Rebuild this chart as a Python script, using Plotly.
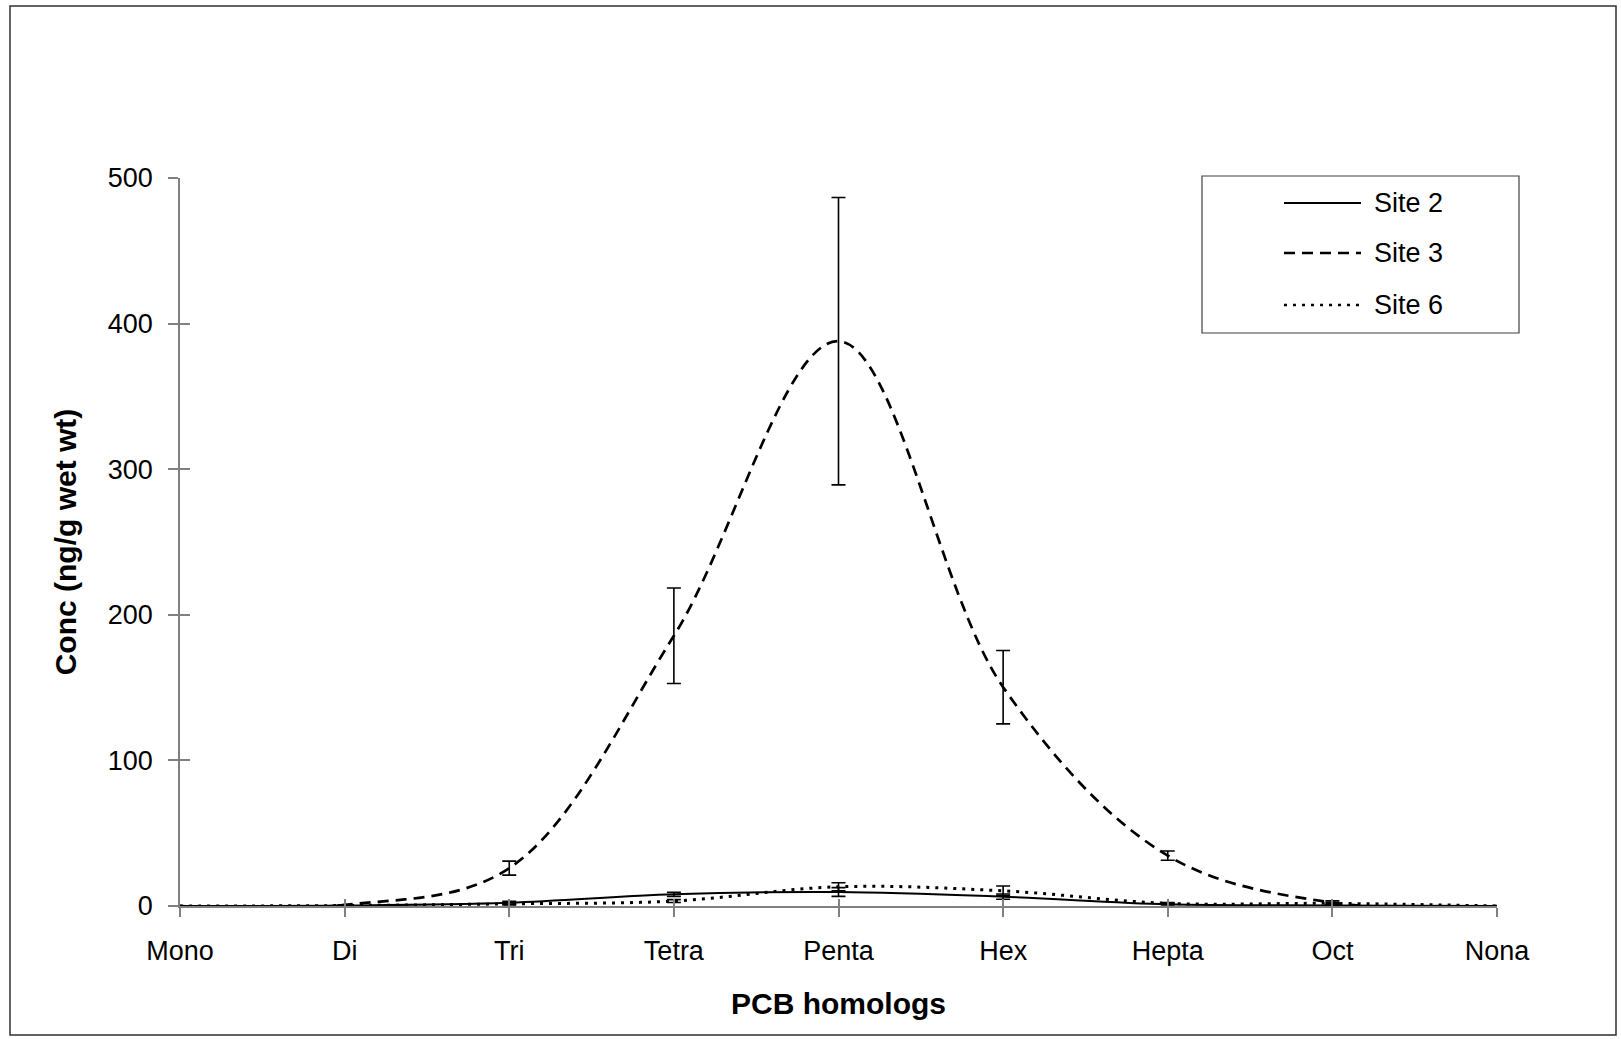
import plotly.graph_objects as go

categories = ["Mono", "Di", "Tri", "Tetra", "Penta", "Hex", "Hepta", "Oct", "Nona"]
site2 = [0, 0.3, 2.2, 8.0, 9.6, 6.4, 1.2, 0.4, 0]
site2_err = [0, 0.2, 1.0, 1.4, 3.0, 1.8, 0.5, 0.3, 0]
site3 = [0, 0.8, 26.0, 185.6, 387.9, 150.3, 34.6, 2.3, 0]
site3_err = [0, 0, 4.8, 32.8, 98.7, 25.2, 3.2, 1.2, 0]
site6 = [0, 0.3, 1.5, 3.4, 13.2, 10.4, 1.8, 1.8, 0]
site6_err = [0, 0.2, 0.8, 1.0, 2.8, 3.3, 0.5, 0.5, 0]
names = ["Site 2", "Site 3", "Site 6"]
y_ticks = [0, 100, 200, 300, 400, 500]

FONT = "Liberation Sans, Arial, sans-serif"

W, H = 1621, 1039
L, R, T, B = 180, 124, 178, 133
PW, PH = W - L - R, H - T - B


def px(x):
    return (x - L) / PW


def py(y):
    return (H - B - y) / PH


styles = [
    dict(color="black", width=2, dash="solid"),
    dict(color="black", width=2.7, dash="11px,7px"),
    dict(color="black", width=3, dash="3px,6px"),
]
series = [(site2, site2_err), (site3, site3_err), (site6, site6_err)]

fig = go.Figure()
for (vals, errs), name, st in zip(series, names, styles):
    fig.add_trace(go.Scatter(
        x=categories, y=vals, name=name, mode="lines",
        line=dict(color=st["color"], width=st["width"], dash=st["dash"],
                  shape="spline", smoothing=1.0),
        error_y=dict(type="data", array=errs, visible=True, color="black",
                     thickness=1.6, width=7),
        showlegend=False,
    ))

# empty helper trace so the overlay axes (inner half of crossing ticks) are drawn
fig.add_trace(go.Scatter(x=[], y=[], xaxis="x2", yaxis="y2", showlegend=False,
                         hoverinfo="skip"))

# custom legend box + outer chart border
shapes = [
    dict(type="rect", xref="paper", yref="paper",
         x0=px(1202), x1=px(1519), y0=py(333), y1=py(176),
         line=dict(color="#404040", width=1.2), fillcolor="rgba(0,0,0,0)"),
    dict(type="rect", xref="paper", yref="paper",
         x0=px(10), x1=px(1616), y0=py(1035), y1=py(6),
         line=dict(color="#303030", width=1.5), fillcolor="rgba(0,0,0,0)", layer="below"),
]
annotations = []
rows_y = [203, 253, 305]
for name, st, ry in zip(names, styles, rows_y):
    shapes.append(dict(type="line", xref="paper", yref="paper",
                       x0=px(1284), x1=px(1361), y0=py(ry), y1=py(ry),
                       line=dict(color=st["color"], width=st["width"] * 0.9, dash=st["dash"])))
    annotations.append(dict(xref="paper", yref="paper", x=px(1372), y=py(ry),
                            text=name, showarrow=False, xanchor="left", yanchor="middle",
                            font=dict(family=FONT, size=27, color="black")))

fig.update_layout(
    width=W, height=H,
    margin=dict(l=L, r=R, t=T, b=B, pad=0),
    paper_bgcolor="white", plot_bgcolor="white",
    font=dict(family=FONT, size=27, color="black"),
    showlegend=False,
    shapes=shapes, annotations=annotations,
    xaxis=dict(
        type="category", categoryorder="array", categoryarray=categories,
        range=[0, len(categories) - 1],
        showline=True, linecolor="#808080", linewidth=1.5,
        ticks="outside", ticklen=9, tickcolor="#808080", tickwidth=1.5,
        tickson="labels", showgrid=False, zeroline=False,
        tickfont=dict(family=FONT, size=27, color="black"),
        ticklabelstandoff=11,
        title=dict(text="<b>PCB homologs</b>", font=dict(family=FONT, size=30, color="black"),
                   standoff=28),
    ),
    xaxis2=dict(
        overlaying="x", anchor="y", side="bottom", range=[0, len(categories) - 1],
        tickvals=list(range(len(categories))), ticks="inside", ticklen=7,
        tickcolor="#808080", tickwidth=1.5, showticklabels=False,
        showgrid=False, zeroline=False, showline=False,
    ),
    yaxis=dict(
        range=[0, 500], tickvals=y_ticks,
        showline=True, linecolor="#808080", linewidth=1.5,
        ticks="outside", ticklen=10, tickcolor="#808080", tickwidth=1.5,
        showgrid=False, zeroline=False,
        tickfont=dict(family=FONT, size=27, color="black"),
        ticklabelstandoff=10,
        title=dict(text="<b>Conc (ng/g wet wt)</b>", font=dict(family=FONT, size=30, color="black"),
                   standoff=22),
    ),
    yaxis2=dict(
        overlaying="y", anchor="x", side="left", range=[0, 500], tickvals=y_ticks,
        ticks="inside", ticklen=10, tickcolor="#808080", tickwidth=1.5,
        showticklabels=False, showgrid=False, zeroline=False, showline=False,
    ),
)

fig.write_html("out.html", config={"displayModeBar": False},
               post_script="document.body.style.margin='0';")
